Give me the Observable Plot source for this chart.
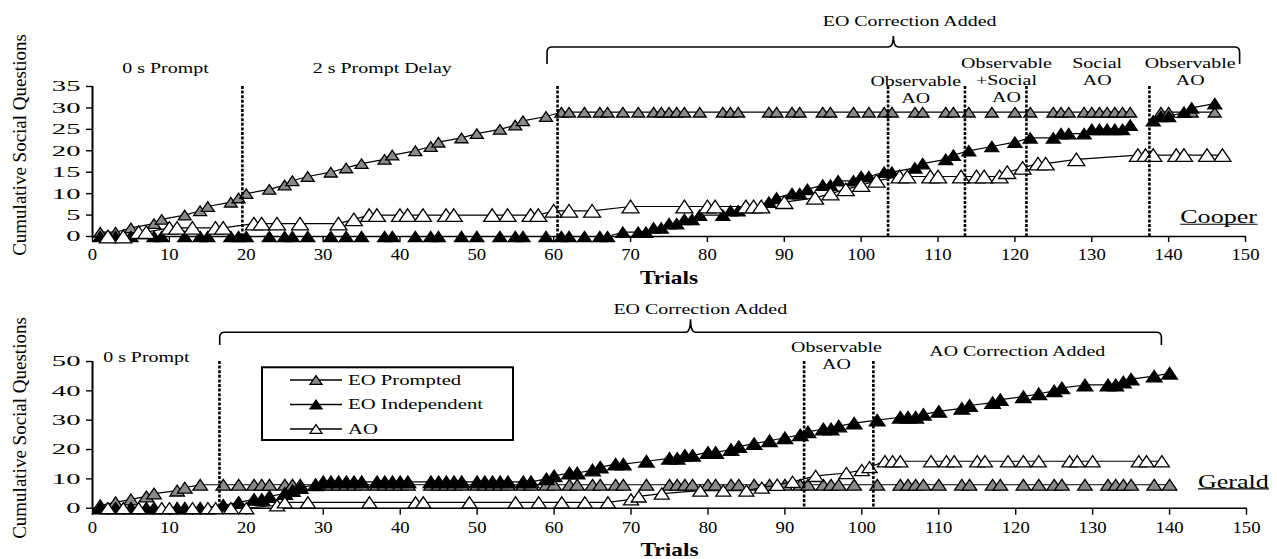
<!DOCTYPE html>
<html>
<head>
<meta charset="utf-8">
<script src="https://cdn.jsdelivr.net/npm/d3@7"></script>
<script src="https://cdn.jsdelivr.net/npm/@observablehq/plot@0.6"></script>
<style>
  body { margin: 0; background: #fff; }
  #chart { width: 1277px; }
  #chart svg { display: block; }
</style>
</head>
<body>
<div id="chart"></div>
<script>
// ---- Data: cumulative social questions, as [trial, cumulative count] ----
const cooperEOPrompted = [[1,1],[3,1],[5,2],[8,3],[9,4],[12,5],[14,6],[15,7],[18,8],[19,9],[20,10],[23,11],[25,12],[26,13],[28,14],[31,15],[33,16],[35,17],[38,18],[39,19],[42,20],[44,21],[45,22],[48,23],[50,24],[53,25],[55,26],[56,27],[59,28],[61,29],[62,29],[64,29],[66,29],[67,29],[69,29],[71,29],[73,29],[74,29],[75,29],[76,29],[77,29],[79,29],[82,29],[83,29],[84,29],[88,29],[89,29],[91,29],[92,29],[95,29],[96,29],[99,29],[101,29],[103,29],[104,29],[107,29],[108,29],[111,29],[112,29],[114,29],[117,29],[120,29],[122,29],[125,29],[126,29],[127,29],[129,29],[130,29],[131,29],[132,29],[133,29],[134,29],[135,29],[139,29],[140,29],[143,29],[146,29]];
const cooperEOIndependent = [[1,0],[3,0],[5,0],[8,0],[9,0],[12,0],[14,0],[15,0],[18,0],[19,0],[20,0],[23,0],[25,0],[26,0],[28,0],[31,0],[33,0],[35,0],[38,0],[39,0],[42,0],[44,0],[45,0],[48,0],[50,0],[53,0],[55,0],[56,0],[59,0],[61,0],[62,0],[64,0],[66,0],[67,0],[69,1],[71,1],[72,1],[73,2],[74,2],[75,3],[76,3],[77,4],[78,4],[79,5],[82,5],[83,6],[84,6],[85,7],[87,7],[88,8],[89,9],[91,10],[92,10],[93,11],[95,12],[96,12],[97,13],[99,13],[100,14],[101,14],[103,15],[104,15],[107,16],[108,17],[111,18],[112,19],[114,20],[117,21],[120,22],[122,23],[125,23],[126,24],[127,24],[129,24],[130,25],[131,25],[132,25],[133,25],[134,25],[135,26],[138,27],[139,28],[140,28],[142,29],[143,30],[146,31]];
const cooperAO = [[2,0],[4,0],[6,1],[7,1],[10,2],[11,2],[13,2],[16,2],[17,2],[21,3],[22,3],[24,3],[27,3],[32,3],[34,4],[36,5],[37,5],[40,5],[41,5],[43,5],[46,5],[47,5],[52,5],[54,5],[57,5],[58,5],[60,6],[62,6],[65,6],[70,7],[77,7],[80,7],[81,7],[85,7],[86,7],[87,7],[90,8],[94,9],[96,10],[98,11],[100,12],[102,13],[105,14],[106,14],[109,14],[110,14],[113,14],[115,14],[116,14],[118,14],[119,15],[121,16],[123,17],[124,17],[128,18],[136,19],[137,19],[138,19],[141,19],[142,19],[145,19],[147,19]];

const geraldEOPrompted = [[1,1],[3,2],[5,3],[7,4],[8,5],[11,6],[12,7],[14,8],[17,8],[19,8],[21,8],[22,8],[23,8],[25,8],[26,8],[27,8],[29,8],[30,8],[31,8],[32,8],[33,8],[34,8],[35,8],[37,8],[38,8],[39,8],[40,8],[41,8],[44,8],[45,8],[46,8],[47,8],[48,8],[50,8],[51,8],[52,8],[53,8],[54,8],[56,8],[57,8],[59,8],[60,8],[62,8],[63,8],[65,8],[66,8],[68,8],[69,8],[72,8],[75,8],[76,8],[77,8],[78,8],[80,8],[81,8],[83,8],[84,8],[86,8],[88,8],[90,8],[92,8],[93,8],[95,8],[96,8],[97,8],[99,8],[102,8],[105,8],[106,8],[107,8],[108,8],[110,8],[113,8],[114,8],[117,8],[118,8],[121,8],[123,8],[125,8],[126,8],[129,8],[132,8],[133,8],[134,8],[135,8],[138,8],[140,8]];
const geraldEOIndependent = [[1,0],[3,0],[5,0],[7,0],[8,0],[11,0],[12,0],[14,0],[17,1],[19,2],[21,3],[22,3],[23,4],[25,5],[26,6],[27,7],[29,8],[30,9],[31,9],[32,9],[33,9],[34,9],[35,9],[37,9],[38,9],[39,9],[40,9],[41,9],[44,9],[45,9],[46,9],[47,9],[48,9],[50,9],[51,9],[52,9],[53,9],[54,9],[56,9],[57,9],[59,10],[60,11],[62,12],[63,12],[65,13],[66,14],[68,15],[69,15],[72,16],[75,17],[76,17],[77,18],[78,18],[80,19],[81,19],[83,20],[84,21],[86,22],[88,23],[90,24],[92,25],[93,26],[95,27],[96,27],[97,28],[99,29],[102,30],[105,31],[106,31],[107,31],[108,32],[110,33],[113,34],[114,35],[117,36],[118,37],[121,38],[123,39],[125,40],[126,41],[129,42],[132,42],[133,42],[134,43],[135,44],[138,45],[140,46]];
const geraldAO = [[2,0],[4,0],[6,0],[9,0],[10,0],[13,0],[15,0],[16,0],[18,0],[20,0],[24,1],[25,2],[28,2],[36,2],[42,2],[43,2],[49,2],[55,2],[58,2],[61,2],[64,2],[67,2],[70,3],[71,4],[74,5],[79,6],[82,6],[85,6],[87,7],[89,8],[91,9],[94,11],[98,12],[100,13],[101,14],[103,16],[104,16],[105,16],[109,16],[111,16],[112,16],[115,16],[116,16],[119,16],[121,16],[123,16],[127,16],[128,16],[130,16],[136,16],[137,16],[139,16]];

// Phase change lines (between trials) and where the EO series are broken
const cooperPhaseChanges = [19.5, 60.5, 103.5, 113.5, 121.5, 137.5];
const cooperEOBreaks = [137.5];
const geraldPhaseChanges = [16.5, 92.5, 101.5];

// Axis ticks
const trialTicks = [0, 10, 20, 30, 40, 50, 60, 70, 80, 90, 100, 110, 120, 130, 140, 150];
const cooperCountTicks = [0, 5, 10, 15, 20, 25, 30, 35];
const geraldCountTicks = [0, 10, 20, 30, 40, 50];

// Text
const seriesNames = ["EO Prompted", "EO Independent", "AO"];
const cooperPhaseLabels = ["0 s Prompt", "2 s Prompt Delay", "Observable\nAO", "Observable\n+Social\nAO", "Social\nAO", "Observable\nAO"];
const geraldPhaseLabels = ["0 s Prompt", "Observable\nAO", "AO Correction Added"];
const bracketLabel = "EO Correction Added";
const participants = ["Cooper", "Gerald"];
const yTitle = "Cumulative Social Questions";
const xTitle = "Trials";

// ---- Styles ----
const serif = "'Liberation Serif', 'Times New Roman', serif";
const seriesFill = {"EO Prompted": "#8a8a8a", "EO Independent": "#000000", "AO": "#ffffff"};

// A triangle marker that is a little wider than it is tall
const wideTriangle = {
  draw(context, size) {
    const r = Math.sqrt(size / Math.PI);
    const w = r, h = r * 0.74;
    context.moveTo(0, -h);
    context.lineTo(w, h);
    context.lineTo(-w, h);
    context.closePath();
  }
};

function seriesMarks(points, name, r, breaks = []) {
  const rows = points.map(([trial, count]) => ({trial, count, seg: breaks.filter((b) => trial > b).length}));
  return [
    Plot.line(rows, {x: "trial", y: "count", z: "seg", stroke: "black", strokeWidth: 1.2}),
    Plot.dot(rows, {x: "trial", y: "count", symbol: wideTriangle, r, fill: seriesFill[name], stroke: "black", strokeWidth: 1.3})
  ];
}

// Curly bracket spanning a range of trials, drawn above the frame
function bracketMark(from, to, lift, drop, peak) {
  return (index, scales, values, dims) => {
    const x1 = scales.x(from), x2 = scales.x(to), xm = (x1 + x2) / 2;
    const y = dims.marginTop - lift, c = 5;
    const p = d3.path();
    p.moveTo(x1, y + drop);
    p.lineTo(x1, y + c);
    p.quadraticCurveTo(x1, y, x1 + c, y);
    p.lineTo(xm - c, y);
    p.quadraticCurveTo(xm, y, xm, y - peak);
    p.quadraticCurveTo(xm, y, xm + c, y);
    p.lineTo(x2 - c, y);
    p.quadraticCurveTo(x2, y, x2, y + c);
    p.lineTo(x2, y + drop);
    return d3.create("svg:path")
      .attr("d", p.toString())
      .attr("fill", "none")
      .attr("stroke", "black")
      .attr("stroke-width", 1.6)
      .node();
  };
}

// Rotated y-axis title, centred at a given height
function yTitleMark(centerY) {
  return () => d3.create("svg:text")
    .attr("transform", `translate(20,${centerY}) rotate(-90)`)
    .attr("text-anchor", "middle")
    .attr("dy", "0.32em")
    .attr("font-size", 19)
    .attr("font-family", serif)
    .attr("fill", "black")
    .text(yTitle)
    .node();
}

// Boxed legend placed inside the lower panel
function legendMark(box) {
  return () => {
    const g = d3.create("svg:g");
    g.append("rect")
      .attr("x", box.x).attr("y", box.y).attr("width", box.w).attr("height", box.h)
      .attr("fill", "white").attr("stroke", "black").attr("stroke-width", 2);
    seriesNames.forEach((name, i) => {
      const cy = box.y + box.rowStart + i * box.rowStep;
      g.append("line")
        .attr("x1", box.x + 28).attr("x2", box.x + 80).attr("y1", cy).attr("y2", cy)
        .attr("stroke", "black").attr("stroke-width", 1.5);
      const p = d3.path();
      wideTriangle.draw(p, Math.PI * 6 * 6);
      g.append("path")
        .attr("d", p.toString())
        .attr("transform", `translate(${box.x + 54},${cy})`)
        .attr("fill", seriesFill[name]).attr("stroke", "black").attr("stroke-width", 1.3);
      g.append("text")
        .attr("transform", `translate(${box.x + 86},${cy}) scale(1.38,1)`)
        .attr("text-anchor", "start")
        .attr("dy", "0.32em")
        .attr("font-size", 15)
        .attr("font-family", serif)
        .attr("fill", "black")
        .text(name);
    });
    return g.node();
  };
}

function panel(cfg) {
  return Plot.plot({
    width: 1277,
    height: cfg.height,
    marginTop: cfg.marginTop,
    marginBottom: cfg.marginBottom,
    marginLeft: 92,
    marginRight: cfg.marginRight,
    style: {fontFamily: serif, background: "white", color: "black", overflow: "visible"},
    x: {domain: [0, 150]},
    y: {domain: [0, cfg.yTicks[cfg.yTicks.length - 1]]},
    marks: [
      Plot.axisX({ticks: trialTicks, tickSize: cfg.xTickSize, tickPadding: cfg.xTickPadding, fontSize: 17, strokeWidth: 1.4, label: null}),
      Plot.axisY({ticks: cfg.yTicks, tickSize: 6, tickPadding: 6, fontSize: 15.5, strokeWidth: 1.4, label: null}),
      Plot.ruleY([0], {strokeWidth: 1.6}),
      Plot.ruleX([0], {strokeWidth: 2}),
      ...seriesMarks(cfg.prompted, "EO Prompted", cfg.rEO, cfg.breaks),
      ...seriesMarks(cfg.independent, "EO Independent", cfg.rEO + 0.5, cfg.breaks),
      ...seriesMarks(cfg.ao, "AO", cfg.rAO),
      Plot.ruleX(cfg.phases, {stroke: "black", strokeWidth: 2.6, strokeDasharray: "3,1.6"}),
      bracketMark(cfg.bracket.from, cfg.bracket.to, cfg.bracket.lift, cfg.bracket.drop, cfg.bracket.peak),
      Plot.text([bracketLabel], {x: () => cfg.bracket.labelAt, text: (d) => d, frameAnchor: "top", lineAnchor: "middle", dy: cfg.bracket.labelDy, fontSize: 15}),
      ...cfg.labels.map((a) =>
        Plot.text([a], {x: "at", text: "text", frameAnchor: "top", lineAnchor: "middle", dy: a.dy, fontSize: 15, lineHeight: 1.13})
      ),
      Plot.text([cfg.name], {x: () => cfg.nameAt, text: (d) => d, frameAnchor: "bottom", lineAnchor: "middle", dy: cfg.nameDy, fontSize: 18}),
      Plot.text([xTitle], {text: (d) => d, frameAnchor: "bottom", lineAnchor: "middle", dy: cfg.xTitleDy, fontSize: 19, fontWeight: "bold"}),
      yTitleMark(cfg.yTitleAt),
      ...(cfg.legend ? [legendMark(cfg.legend)] : [])
    ]
  });
}

// Widen the serif lettering horizontally, around each text's own anchor point
const annotationTexts = new Set([...cooperPhaseLabels, ...geraldPhaseLabels, bracketLabel].map((s) => s.replace(/\n/g, "")));
function widenText(svg) {
  const box = svg.getBoundingClientRect();
  svg.querySelectorAll("text").forEach((t) => {
    const s = t.textContent;
    const tr = t.getAttribute("transform");
    if (!tr || /scale|rotate/.test(tr)) return;
    let sx = null, underline = false;
    if (/^\d+$/.test(s)) sx = getComputedStyle(t).textAnchor === "end" ? 1.85 : 1.1;
    else if (annotationTexts.has(s)) sx = 1.33;
    else if (participants.includes(s)) { sx = 1.45; underline = true; }
    else if (s === xTitle) sx = 1.23;
    if (sx == null) return;
    t.setAttribute("transform", `${tr} scale(${sx},1)`);
    if (underline) {
      const r = t.getBoundingClientRect();
      d3.select(svg).append("line")
        .attr("x1", r.left - box.left).attr("x2", r.right - box.left)
        .attr("y1", r.bottom - box.top - 3).attr("y2", r.bottom - box.top - 3)
        .attr("stroke", "black").attr("stroke-width", 1.2);
    }
  });
}

const chart = document.getElementById("chart");

const cooperSvg = panel({
  height: 283, marginTop: 86, marginBottom: 47, marginRight: 32,
  yTicks: cooperCountTicks, xTickSize: 6, xTickPadding: 5,
  prompted: cooperEOPrompted, independent: cooperEOIndependent, ao: cooperAO,
  breaks: cooperEOBreaks, rEO: 6.5, rAO: 8.5,
  phases: cooperPhaseChanges,
  bracket: {from: 59.2, to: 149.3, lift: 39, drop: 17, peak: 11, labelAt: 106.3, labelDy: -65},
  labels: [
    {text: cooperPhaseLabels[0], at: 9.5, dy: -19},
    {text: cooperPhaseLabels[1], at: 37.7, dy: -19},
    {text: cooperPhaseLabels[2], at: 107.1, dy: 3},
    {text: cooperPhaseLabels[3], at: 118.9, dy: -6.5},
    {text: cooperPhaseLabels[4], at: 130.7, dy: -15.5},
    {text: cooperPhaseLabels[5], at: 142.8, dy: -15.5}
  ],
  name: participants[0], nameAt: 146.5, nameDy: -19,
  xTitleDy: 41, yTitleAt: 145
});

const geraldSvg = panel({
  height: 276, marginTop: 78, marginBottom: 51.3, marginRight: 31,
  yTicks: geraldCountTicks, xTickSize: 7, xTickPadding: 6,
  prompted: geraldEOPrompted, independent: geraldEOIndependent, ao: geraldAO,
  breaks: [], rEO: 7.3, rAO: 7.5,
  phases: geraldPhaseChanges,
  bracket: {from: 16.6, to: 139, lift: 28.7, drop: 12.7, peak: 13, labelAt: 79, labelDy: -52},
  labels: [
    {text: geraldPhaseLabels[0], at: 7.0, dy: -5},
    {text: geraldPhaseLabels[1], at: 96.7, dy: -6},
    {text: geraldPhaseLabels[2], at: 120.2, dy: -11}
  ],
  name: participants[1], nameAt: 148.3, nameDy: -26,
  xTitleDy: 41.5, yTitleAt: 145,
  legend: {x: 262, y: 84.3, w: 251, h: 72.7, rowStart: 12.7, rowStep: 24.5}
});

chart.append(cooperSvg, geraldSvg);
widenText(cooperSvg);
widenText(geraldSvg);
</script>
</body>
</html>
